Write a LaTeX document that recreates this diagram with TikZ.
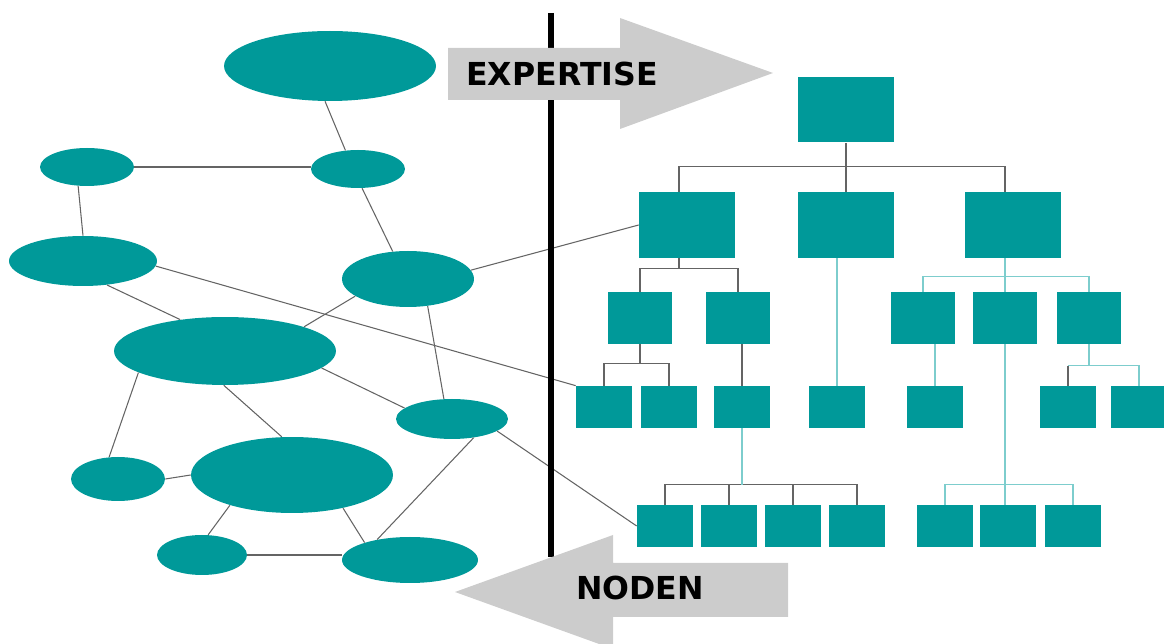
\documentclass[tikz,border=0pt]{standalone}
\usepackage{fontspec}
\newfontfamily\arrowfont{DejaVu Sans}
\usetikzlibrary{shapes.geometric}

\definecolor{nodeteal}{RGB}{0,153,153}
\definecolor{linkgray}{RGB}{100,100,100}
\definecolor{linkcyan}{RGB}{125,205,205}
\definecolor{arrowgray}{RGB}{204,204,204}

\tikzset{
	blob/.style={ellipse, fill=nodeteal, inner sep=0pt},
	box/.style={rectangle, fill=nodeteal, inner sep=0pt},
	bigbox/.style={box, minimum width=1.92cm, minimum height=1.32cm},
	midbox/.style={box, minimum width=1.28cm, minimum height=1.04cm},
	smallbox/.style={box, minimum width=1.12cm, minimum height=0.84cm},
	link/.style={draw=linkgray, line width=0.6pt},
	cyanlink/.style={draw=linkcyan, line width=0.6pt},
	arrowlabel/.style={font=\arrowfont\bfseries\fontsize{18}{20}\selectfont, text=black}
}

\begin{document}
\begin{tikzpicture}[x=0.02cm, y=-0.02cm]

	\useasboundingbox (0,0) rectangle (1164,644);

	\draw (330,66) node (top) [blob, minimum width=4.24cm, minimum height=1.4cm] {};
	\draw (87,167) node (left1) [blob, minimum width=1.88cm, minimum height=0.76cm] {};
	\draw (358,169) node (right1) [blob, minimum width=1.88cm, minimum height=0.76cm] {};
	\draw (83,261) node (left2) [blob, minimum width=2.96cm, minimum height=1.0cm] {};
	\draw (408,279) node (right2) [blob, minimum width=2.64cm, minimum height=1.12cm] {};
	\draw (225,351) node (big1) [blob, minimum width=4.44cm, minimum height=1.36cm] {};
	\draw (452,419) node (mid) [blob, minimum width=2.24cm, minimum height=0.8cm] {};
	\draw (118,479) node (left3) [blob, minimum width=1.88cm, minimum height=0.88cm] {};
	\draw (292,475) node (big2) [blob, minimum width=4.04cm, minimum height=1.52cm] {};
	\draw (202,555) node (bottom1) [blob, minimum width=1.8cm, minimum height=0.8cm] {};
	\draw (410,560) node (bottom2) [blob, minimum width=2.72cm, minimum height=0.92cm] {};

	\draw (846,110) node (root) [box, minimum width=1.92cm, minimum height=1.3cm] {};

	\draw (687,225) node (A) [bigbox] {};
	\draw (846,225) node (B) [bigbox] {};
	\draw (1013,225) node (C) [bigbox] {};

	\draw (640,318) node (a1) [midbox] {};
	\draw (738,318) node (a2) [midbox] {};
	\draw (923,318) node (c1) [midbox] {};
	\draw (1005,318) node (c2) [midbox] {};
	\draw (1089,318) node (c3) [midbox] {};

	\draw (604,407) node (a1a) [smallbox] {};
	\draw (669,407) node (a1b) [smallbox] {};
	\draw (742,407) node (a2a) [smallbox] {};
	\draw (837,407) node (b1) [smallbox] {};
	\draw (935,407) node (c1a) [smallbox] {};
	\draw (1068,407) node (c3a) [smallbox] {};
	\draw (1139,407) node (c3b) [smallbox] {};

	\draw (665,526) node (d1) [smallbox] {};
	\draw (729,526) node (d2) [smallbox] {};
	\draw (793,526) node (d3) [smallbox] {};
	\draw (857,526) node (d4) [smallbox] {};
	\draw (945,526) node (e1) [smallbox] {};
	\draw (1008,526) node (e2) [smallbox] {};
	\draw (1073,526) node (e3) [smallbox] {};

	\draw[link] (top.262) -- (right1.124);
	\draw[link] (left1.east) -- (left1.east -| right1.west);
	\draw[link] (left1.245) -- (left2.north);
	\draw[link] (right1.282) -- (right2.119);
	\draw[link] (right2.8) -- (A.west);
	\draw[link] (left2.356) -- (a1a.north west);
	\draw[link] (left2.315) -- (big1.145);
	\draw[link] (right2.198) -- (big1.17);
	\draw[link] (right2.306) -- (mid.112);
	\draw[link] (big1.194) -- (left3.112);
	\draw[link] (big1.268) -- (big2.105);
	\draw[link] (big1.350) -- (mid.167);
	\draw[link] (left3.east) -- (big2.west);
	\draw[link] (big2.206) -- (bottom1.73);
	\draw[link] (big2.327) -- (bottom2.159);
	\draw[link] (bottom1.east) -- (bottom1.east -| bottom2.west);
	\draw[link] (mid.319) -- (bottom2.148);
	\draw[link] (mid.345) -- (d1.west);

	\draw[link] ([xshift=-0.16cm]A.north) -- ++(0,-25) -| ([xshift=-0.16cm]C.north);
	\draw[link] (root) -- (B);

	\draw[link] (a1.north) -- ++(0,-23) coordinate (busA) -| (a2.north);
	\draw[link] ([xshift=-0.16cm]A.south) -- ([xshift=-0.16cm]A.south |- busA);
	\draw[cyanlink] (b1.north |- B.south) -- (b1.north);
	\draw[cyanlink] (c1.north) -- ++(0,-15) coordinate (busC) -| (c3.north);
	\draw[cyanlink] (c2.north |- C.south) -- (c2.north);

	\draw[link] (a1a.north) -- ++(0,-22) coordinate (busA1) -| (a1b.north);
	\draw[link] (a1.south) -- (a1.south |- busA1);
	\draw[link] (a2a.north |- a2.south) -- (a2a.north);
	\draw[cyanlink] (c1a.north |- c1.south) -- (c1a.north);
	\draw[link] (c3a.north) -- ++(0,-20) coordinate (busC3);
	\draw[cyanlink] (busC3) -| (c3b.north);
	\draw[cyanlink] (c3.south) -- (c3.south |- busC3);

	\draw[link] (d1.north) -- ++(0,-20) coordinate (busD) -| (d4.north);
	\draw[link] (d2.north) -- (d2.north |- busD);
	\draw[link] (d3.north) -- (d3.north |- busD);
	\draw[cyanlink] (a2a.south) -- (a2a.south |- busD);
	\draw[cyanlink] (e1.north) -- ++(0,-20) coordinate (busE) -| (e3.north);
	\draw[cyanlink] (c2.south) -- (c2.south |- e2.north);

	\draw[line width=0.12cm, black] (551,13) -- (551,557);

	\fill[arrowgray] (448,48) -- (620,48) -- (620,18) -- (773,73) -- (620,129) -- (620,100) -- (448,100) -- cycle;
	\fill[arrowgray] (788,563) -- (613,563) -- (613,535) -- (455,592) -- (613,649) -- (613,617) -- (788,617) -- cycle;

	\draw (562,74) node (expertise) [arrowlabel] {EXPERTISE};
	\draw (640,588) node (noden) [arrowlabel] {NODEN};

\end{tikzpicture}
\end{document}
